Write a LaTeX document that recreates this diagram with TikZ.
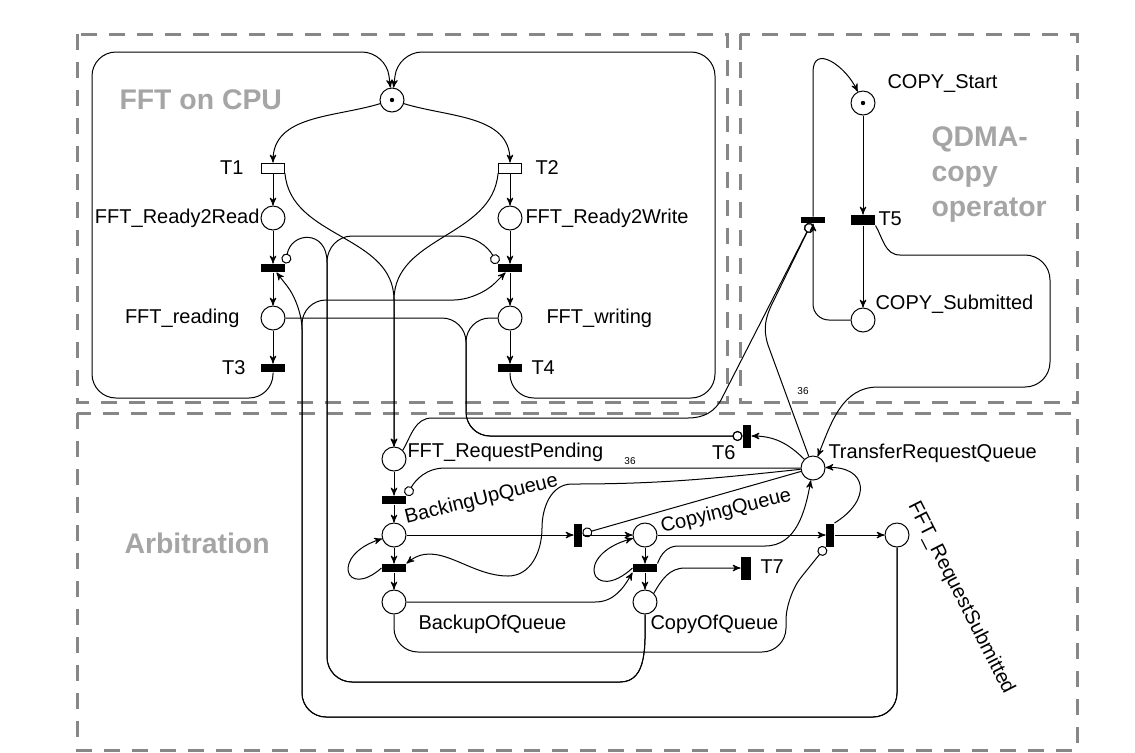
\documentclass[tikz,border=0pt]{standalone}
\usepackage{fontspec}
\setmainfont{Liberation Sans}
\usepackage{tikz}
\usetikzlibrary{arrows,positioning}

\definecolor{boxgray}{RGB}{135,135,135}
\definecolor{headgray}{RGB}{165,165,165}

\begin{document}
\begin{tikzpicture}[->, >=stealth', line width=0.5pt, x=0.5pt, y=0.5pt, node distance=25pt,
  place/.style={circle, draw, minimum size=12pt, inner sep=0pt},
  marked/.style={path picture={\fill (path picture bounding box.center) circle (1.1pt);}},
  imm/.style={rectangle, draw, fill=white, minimum width=11.5pt, minimum height=5pt, inner sep=0pt},
  hbar/.style={rectangle, fill=black, minimum width=12pt, minimum height=4pt, inner sep=0pt},
  vbar/.style={rectangle, fill=black, minimum width=4pt, minimum height=11.5pt, inner sep=0pt},
  region/.style={draw=boxgray, line width=1.5pt, dash pattern=on 8pt off 6pt},
  head/.style={font=\fontsize{14.2}{17.5}\selectfont\bfseries, text=headgray, inner sep=0pt, align=left},
  weight/.style={font=\fontsize{5}{6}\selectfont, inner sep=0pt}]
\tikzstyle{every node}=[font=\fontsize{10}{12}\selectfont, inner sep=0.5pt]
\useasboundingbox (0,0) rectangle (1135,-752);

\draw[region, -] (77,-34) rectangle (727,-402);
\draw[region, -] (740,-34) rectangle (1077,-402);
\draw[region, -] (77,-413) rectangle (1077,-750);

% FFT on CPU
\node[place, marked] (idle) at (392,-100) {};
\node[imm] (t1) at (273,-168) {};
\node[place] (ready2read) [below of=t1] {};
\node[hbar] (startread) [below of=ready2read] {};
\node[place] (reading) [below of=startread] {};
\node[hbar] (t3) [below of=reading] {};
\node[imm] (t2) at (510,-168) {};
\node[place] (ready2write) [below of=t2] {};
\node[hbar] (startwrite) [below of=ready2write] {};
\node[place] (writing) [below of=startwrite] {};
\node[hbar] (t4) [below of=writing] {};

\node[head, anchor=west] (hcpu) at (119,-100) {FFT on CPU};
\node[anchor=east] (lt1) at (245,-168) {T1};
\node[anchor=west] (lt2) at (534,-168) {T2};
\node[anchor=east] (lready2read) at (261,-218) {FFT\_Ready2Read};
\node[anchor=west] (lready2write) at (524,-218) {FFT\_Ready2Write};
\node[anchor=east] (lreading) at (241,-318) {FFT\_reading};
\node[anchor=west] (lwriting) at (545,-318) {FFT\_writing};
\node[anchor=east] (lt3) at (247,-368) {T3};
\node[anchor=west] (lt4) at (530,-368) {T4};

% QDMA copy operator
\node[place, marked] (copystart) at (863,-103) {};
\node[hbar, minimum height=5pt] (t5) at (863,-220) {};
\node[place] (copysubmitted) at (863,-320) {};
\node[hbar, minimum height=3pt] (copydone) at (813,-220) {};

\node[anchor=west] (lcopystart) at (886,-83) {COPY\_Start};
\node[anchor=west] (lt5) at (877,-219) {T5};
\node[anchor=west] (lcopysubmitted) at (874,-304) {COPY\_Submitted};
\node[head, anchor=west] (hqdma) at (931,-175) {QDMA-\\copy\\operator};

% Arbitration
\node[place] (reqpending) at (394,-459) {};
\node[hbar] (startbackup) at (394,-500) {};
\node[place] (backingup) at (394,-535) {};
\node[hbar] (dobackup) at (394,-568) {};
\node[place] (backupof) at (394,-602) {};
\node[vbar] (startcopy) at (578,-535) {};
\node[place] (copying) at (645,-535) {};
\node[hbar] (docopy) at (645,-568) {};
\node[place] (copyof) at (645,-602) {};
\node[vbar, minimum width=5pt] (t7) at (746,-568) {};
\node[vbar] (t6) at (747,-436) {};
\node[place] (transferq) at (813,-468) {};
\node[vbar] (submit) at (830,-535) {};
\node[place] (reqsubmitted) at (897,-535) {};

\node[head, anchor=west] (harb) at (124,-543) {Arbitration};
\node[anchor=west] (lreqpending) at (406,-452) {FFT\_RequestPending};
\node[anchor=west, rotate=14] (lbackingup) at (404,-519) {BackingUpQueue};
\node[anchor=west] (lbackupof) at (417,-624) {BackupOfQueue};
\node[anchor=west, rotate=14] (lcopying) at (660,-528) {CopyingQueue};
\node[anchor=west] (lcopyof) at (649,-624) {CopyOfQueue};
\node[anchor=west] (lt7) at (759,-567) {T7};
\node[anchor=east] (lt6) at (737,-453) {T6};
\node[anchor=west] (ltransferq) at (827,-453) {TransferRequestQueue};
\node[anchor=west, rotate=-63] (lreqsubmitted) at (912,-502) {FFT\_RequestSubmitted};
\node[weight] (w36a) at (803,-391) {36};
\node[weight] (w36b) at (630,-461) {36};

\path (t1) edge (ready2read)
      (ready2read) edge (startread)
      (startread) edge (reading)
      (reading) edge (t3)
      (t2) edge (ready2write)
      (ready2write) edge (startwrite)
      (startwrite) edge (writing)
      (writing) edge (t4)
      (copystart) edge (t5)
      (t5) edge (copysubmitted)
      (reqpending) edge (startbackup)
      (startbackup) edge (backingup)
      (backingup) edge (dobackup)
      (dobackup) edge (backupof)
      (backingup) edge (startcopy)
      (startcopy) edge (copying)
      (copying) edge (docopy)
      (docopy) edge (copyof)
      (copying) edge (submit)
      (submit) edge (reqsubmitted)
      (transferq) edge[-o] (startcopy);

% FFT cycle
\draw (idle) to[out=197,in=90] (t1);
\draw (idle) to[out=-17,in=90] (t2);
\draw (t1.south east) to[out=-85,in=90] (394,-300) -- (reqpending);
\draw (t2.south west) to[out=-95,in=90] (394,-300) -- (reqpending);
\draw[rounded corners=12pt] (t3) |- (92,-398) |- (386,-52) -- (idle);
\draw[rounded corners=12pt] (t4) |- (715,-398) |- (398,-52) -- (idle);

% request submitted / copy of queue
\draw[rounded corners=12pt] (reqsubmitted) |- (302,-717) -- (302,-305) -- (startread);
\draw[rounded corners=12pt] (reqsubmitted) |- (302,-717) |- (478,-300) -- (startwrite);
\draw[-o] (copyof) to[out=-90,in=0] (620,-682) -- (352,-682) to[out=180,in=-90] (327,-657) -- (327,-262) to[out=90,in=80,looseness=2] (startread.north east);
\draw[-o] (copyof) to[out=-90,in=0] (620,-682) -- (352,-682) to[out=180,in=-90] (327,-657) -- (327,-262) to[out=90,in=180] (352,-236) -- (456,-236) to[out=0,in=120] (startwrite.north west);
\draw[-o, rounded corners=12pt] (reading) -| (466,-436) -- (t6);
\draw[-o, rounded corners=12pt] (writing) -| (466,-436) -- (t6);

% end of a copy
\draw[-o] (reqpending.north east) to[out=60,in=180] (432,-418) -- (688,-418) to[out=0,in=-116] (722,-398) -- (copydone);
\draw[-o] (transferq) -- (768,-345) to[out=108,in=-117] (773,-302) -- (copydone);

% copy operator
\draw (t5.south east) to[out=-60,in=180] (900,-255) -- (1025,-255) to[out=0,in=90] (1050,-280) -- (1050,-362) to[out=-90,in=0] (1025,-387) -- (878,-387) to[out=180,in=68] (transferq);
\draw[rounded corners=8pt] (copysubmitted) -| (copydone);
\draw (copydone) -- (813,-72) to[out=90,in=115,looseness=1.5] (copystart);

% queue
\draw[-o] (transferq) -- (445,-468) to[out=180,in=60] (startbackup.north east);
\draw (transferq) to[out=135,in=0] (t6);
\draw (transferq) to[out=186,in=0] (572,-484) to[out=180,in=90] (542,-528) to[out=-90,in=0] (508,-576) to[out=180,in=40] (dobackup.north east);
\draw (dobackup.west) .. controls (345,-600) and (330,-555) .. (backingup);
\draw (docopy.west) .. controls (592,-605) and (572,-555) .. (copying);
\draw (backupof) -- (595,-602) to[out=0,in=-120] (docopy.south west);
\draw (docopy.north east) to[out=70,in=180] (678,-546) -- (765,-546) to[out=0,in=-100] (transferq);
\draw (copyof.north east) to[out=60,in=180] (685,-568) -- (t7);
\draw[-o, rounded corners=12pt] (backupof) |- (786,-652) -- (786,-596) -- (submit.south west);
\draw (submit.north east) .. controls (872,-500) and (868,-466) .. (transferq);
\end{tikzpicture}
\end{document}
